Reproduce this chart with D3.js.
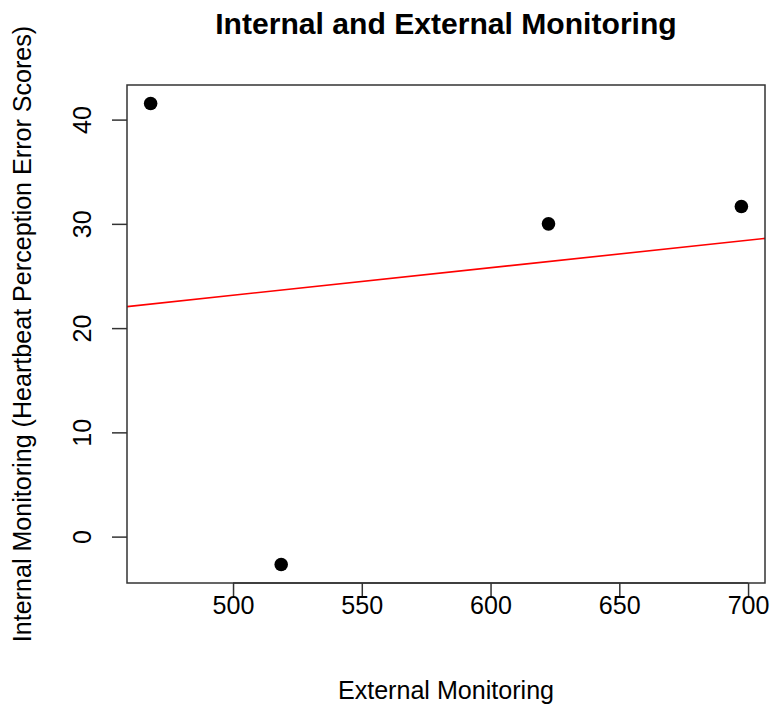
<!DOCTYPE html>
<html>
<head>
<meta charset="utf-8">
<script src="https://cdn.jsdelivr.net/npm/d3@7"></script>
<style>
  html, body { margin: 0; padding: 0; background: #fff; }
  svg text { font-family: "Liberation Sans", Arial, Helvetica, sans-serif; fill: #000; }
</style>
</head>
<body>
<svg id="chart" width="770" height="707"></svg>
<script>
// data
const externalScores = [468.0, 518.7, 622.5, 697.4]
const internalScores = [41.55, -2.68, 30.0, 31.67]
const xTicks = [500, 550, 600, 650, 700]
const yTicks = [0, 10, 20, 30, 40]
// fitted line (lm) coefficients
const fitIntercept = 9.95
const fitSlope = 0.0264

const width = 770
const height = 707
const margin = { top: 85, right: 5, bottom: 124, left: 127 }
const plotW = width - margin.left - margin.right
const plotH = height - margin.top - margin.bottom
const labelSize = 25.1

// R style 4% range padding
const pad = (ext) => {
  const d = (ext[1] - ext[0]) * 0.04
  return [ext[0] - d, ext[1] + d]
}

const x = d3.scaleLinear()
  .domain(pad(d3.extent(externalScores)))
  .range([0, plotW])
const y = d3.scaleLinear()
  .domain(pad(d3.extent(internalScores)))
  .range([plotH, 0])

const svg = d3.select('#chart')
const g = svg.append('g').attr('transform', `translate(${margin.left},${margin.top})`)

g.append('defs').append('clipPath').attr('id', 'plotclip')
  .append('rect').attr('width', plotW).attr('height', plotH)

// regression line
const [x0, x1] = x.domain()
g.append('line')
  .attr('clip-path', 'url(#plotclip)')
  .attr('x1', x(x0)).attr('y1', y(fitIntercept + fitSlope * x0))
  .attr('x2', x(x1)).attr('y2', y(fitIntercept + fitSlope * x1))
  .attr('stroke', '#ff0000')
  .attr('stroke-width', 1.6)

// points
g.selectAll('circle.pt')
  .data(externalScores.map((v, i) => [v, internalScores[i]]))
  .join('circle')
  .attr('class', 'pt')
  .attr('cx', d => x(d[0]))
  .attr('cy', d => y(d[1]))
  .attr('r', 6.8)
  .attr('fill', '#000')

// axes
const xAxis = g.append('g')
  .attr('transform', `translate(0,${plotH})`)
  .call(d3.axisBottom(x).tickValues(xTicks).tickSize(15).tickSizeOuter(0))
xAxis.select('.domain').remove()
xAxis.append('line')
  .attr('x1', x(xTicks[0])).attr('x2', x(xTicks[xTicks.length - 1]))
  .attr('stroke', '#333').attr('stroke-width', 1.5)
xAxis.selectAll('.tick line').attr('stroke', '#333').attr('stroke-width', 1.5)
xAxis.selectAll('.tick text')
  .attr('font-size', labelSize)
  .attr('dy', null)
  .attr('y', 31)
  .style('font-family', '"Liberation Sans", Arial, sans-serif')

const yAxis = g.append('g')
  .call(d3.axisLeft(y).tickValues(yTicks).tickSize(15).tickSizeOuter(0))
yAxis.select('.domain').remove()
yAxis.selectAll('.tick line').attr('stroke', '#333').attr('stroke-width', 1.5)
yAxis.selectAll('.tick text')
  .attr('font-size', labelSize)
  .attr('x', null).attr('dy', null)
  .attr('text-anchor', 'middle')
  .attr('transform', 'translate(-36,0) rotate(-90)')
  .style('font-family', '"Liberation Sans", Arial, sans-serif')

// box
g.append('rect')
  .attr('width', plotW).attr('height', plotH)
  .attr('fill', 'none')
  .attr('stroke', '#333')
  .attr('stroke-width', 1.5)

// title and labels
svg.append('text')
  .attr('x', margin.left + plotW / 2)
  .attr('y', 34)
  .attr('text-anchor', 'middle')
  .attr('font-size', 30.1)
  .attr('font-weight', 'bold')
  .text('Internal and External Monitoring')

svg.append('text')
  .attr('x', margin.left + plotW / 2)
  .attr('y', 699)
  .attr('text-anchor', 'middle')
  .attr('font-size', labelSize)
  .text('External Monitoring')

svg.append('text')
  .attr('transform', `translate(31,${margin.top + plotH / 2}) rotate(-90)`)
  .attr('text-anchor', 'middle')
  .attr('font-size', labelSize)
  .text('Internal Monitoring (Heartbeat Perception Error Scores)')
</script>
</body>
</html>
